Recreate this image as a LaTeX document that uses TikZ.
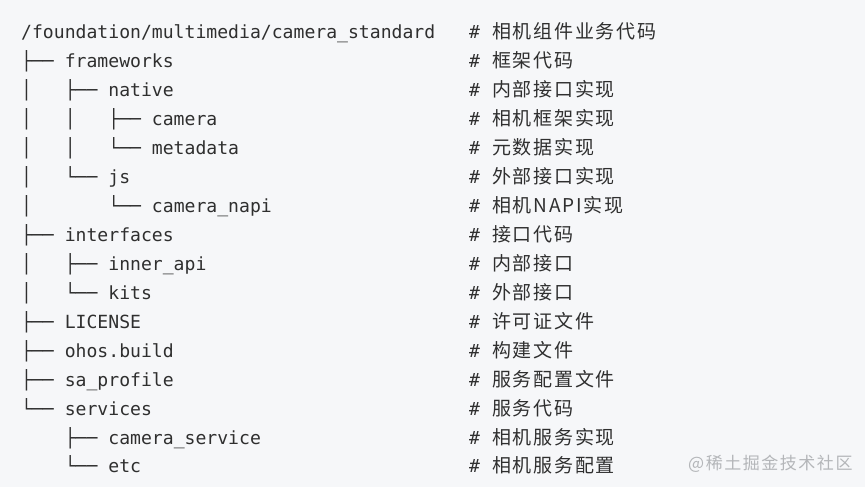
\documentclass[tikz,border=0pt]{standalone}
\usepackage{fontspec}
\setmonofont{DejaVu Sans Mono}
\newfontfamily\cjk[LetterSpace=9]{Noto Sans CJK SC}
\definecolor{codebg}{HTML}{F6F7F9}
\definecolor{codefg}{HTML}{2F2F2F}
\definecolor{markfg}{HTML}{B4B6B9}
\tikzset{
    line/.style={anchor=base west, inner sep=0pt, text=codefg, font=\ttfamily\fontsize{18.1}{22}\selectfont},
    hash/.style={line},
    note/.style={anchor=base west, inner sep=0pt, text=codefg, font=\cjk\fontsize{19}{22}\selectfont},
    watermark/.style={anchor=base west, inner sep=0pt, text=markfg, font=\cjk\fontsize{17}{20}\selectfont}
}
\begin{document}
\begin{tikzpicture}[x=1pt, y=1pt]
\fill[codebg](0,0) rectangle (865,-487);
\useasboundingbox (0,0) rectangle (865,-487);
\foreach \n/\t/\c [count=\i from 0] in {
    root/{/foundation/multimedia/camera\_standard}/{相机组件业务代码},
    frameworks/{├──~frameworks}/{框架代码},
    native/{│~~~├──~native}/{内部接口实现},
    camera/{│~~~│~~~├──~camera}/{相机框架实现},
    metadata/{│~~~│~~~└──~metadata}/{元数据实现},
    js/{│~~~└──~js}/{外部接口实现},
    napi/{│~~~~~~~└──~camera\_napi}/{相机NAPI实现},
    interfaces/{├──~interfaces}/{接口代码},
    innerapi/{│~~~├──~inner\_api}/{内部接口},
    kits/{│~~~└──~kits}/{外部接口},
    license/{├──~LICENSE}/{许可证文件},
    ohos/{├──~ohos.build}/{构建文件},
    saprofile/{├──~sa\_profile}/{服务配置文件},
    services/{└──~services}/{服务代码},
    service/{~~~~├──~camera\_service}/{相机服务实现},
    etc/{~~~~└──~etc}/{相机服务配置}}
{
    \node[line](\n) at (21,-39-28.93*\i){\t};
    \node[hash](\n-h) at (469,-39-28.93*\i){\#};
    \node[note](\n-c) at (492,-39-28.93*\i){\c};
}
\node[watermark](juejin) at (688,-469){@稀土掘金技术社区};
\end{tikzpicture}
\end{document}
